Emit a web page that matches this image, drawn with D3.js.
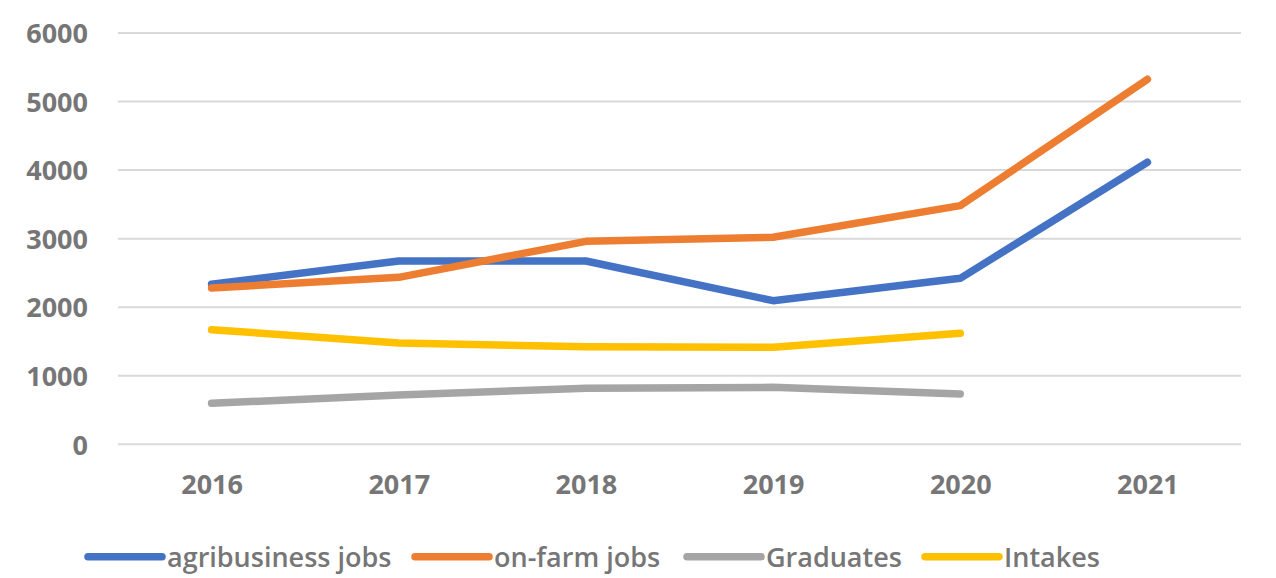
<!DOCTYPE html>
<html><head><meta charset="utf-8">
<script src="https://cdn.jsdelivr.net/npm/d3@7"></script>
<style>body{margin:0;background:#fff}svg{display:block}</style>
</head><body>
<svg id="c" width="1276" height="578"></svg>
<script>
const years = ["2016","2017","2018","2019","2020","2021"];
const yTicks = [0,1000,2000,3000,4000,5000,6000];
const agribusiness = [2334, 2674, 2674, 2095, 2421, 4114];
const onFarm = [2280, 2436, 2961, 3020, 3481, 5325];
const graduates = [598, 720, 817, 831, 734, null];
const intakes = [1672, 1478, 1424, 1415, 1619, null];
const seriesNames = ["agribusiness jobs","on-farm jobs","Graduates","Intakes"];
const seriesColors = ["#4472C4","#ED7D31","#A5A5A5","#FFC000"];
const seriesData = [agribusiness, onFarm, graduates, intakes];

(function(){
const svg = d3.select("#c");
const pl = 118, pr = 1241, pt = 33, pb = 444.3;
const x = d3.scalePoint().domain(years).range([pl, pr]).padding(0.5);
const y = d3.scaleLinear().domain([0,6000]).range([pb, pt]);
const textColor = "#767676";
const font = "'Open Sans', sans-serif";

svg.append("g").selectAll("line").data(yTicks).join("line")
  .attr("x1", pl).attr("x2", pr)
  .attr("y1", d=>y(d)).attr("y2", d=>y(d))
  .attr("stroke", "#d9d9d9").attr("stroke-width", 2);

const yAxis = svg.append("g").attr("transform", `translate(${pl-30},0)`)
  .call(d3.axisLeft(y).tickValues(yTicks).tickSize(0).tickPadding(0).tickFormat(d3.format("d")));
yAxis.select(".domain").remove();
yAxis.selectAll("text").attr("fill", textColor).attr("font-family", font)
  .attr("font-weight", "bold").attr("font-size", 27).attr("dy", "0.36em");

const xAxis = svg.append("g").attr("transform", `translate(0,${pb+31})`)
  .call(d3.axisBottom(x).tickSize(0).tickPadding(0));
xAxis.select(".domain").remove();
xAxis.selectAll("text").attr("fill", textColor).attr("font-family", font)
  .attr("font-weight", "bold").attr("font-size", 27).attr("dy", "0.71em");

const line = d3.line().defined(d=>d.v!=null).x(d=>x(d.year)).y(d=>y(d.v));
seriesData.forEach((arr,i)=>{
  svg.append("path")
    .datum(years.map((yr,j)=>({year:yr, v:arr[j]})))
    .attr("d", line).attr("fill","none")
    .attr("stroke", seriesColors[i]).attr("stroke-width", 7.5)
    .attr("stroke-linecap","round").attr("stroke-linejoin","round");
});

const legendX = [88, 415, 687, 925];
const legendY = 556.7;
const lg = svg.append("g");
seriesNames.forEach((n,i)=>{
  const g = lg.append("g").attr("transform", `translate(${legendX[i]},${legendY})`);
  g.append("line").attr("x1",0).attr("x2",74).attr("y1",0).attr("y2",0)
    .attr("stroke", seriesColors[i]).attr("stroke-width",7.5).attr("stroke-linecap","round");
  g.append("text").attr("x",79).attr("y",10)
    .attr("fill", textColor).attr("font-family", font).attr("font-weight", 600)
    .attr("font-size", 27).text(n);
});
})();
</script>
</body></html>
